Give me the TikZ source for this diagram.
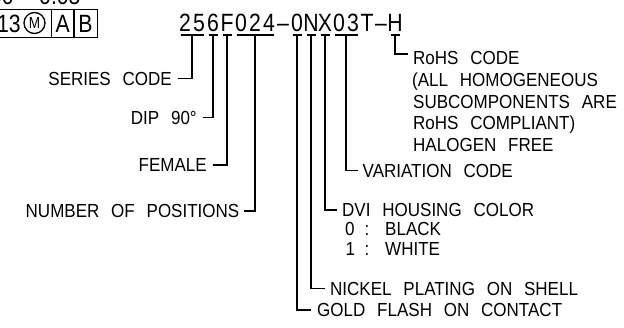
\documentclass[tikz,border=0pt]{standalone}
\usepackage{fontspec}
\newfontfamily\cadfont{Liberation Sans}[FakeStretch=0.9,WordSpace=2.5]
\newfontfamily\pnfont{Liberation Sans}[FakeStretch=0.85]
\usetikzlibrary{calc}
\begin{document}
\begin{tikzpicture}[x=1pt,y=-1pt,
  lbl/.style={font=\cadfont\fontsize{18.9}{22}\selectfont, inner sep=0pt},
  pn/.style={font=\pnfont\fontsize{25}{30}\selectfont, inner sep=0pt},
  msmall/.style={font=\pnfont\fontsize{16}{18}\selectfont, inner sep=0pt},
  ln/.style={line width=1.7pt, line cap=butt},
  frm/.style={line width=1.3pt}]
\useasboundingbox (0,0) rectangle (624,327);
\fill[white] (0,0) rectangle (624,327);

% cut-off text at the top and feature control frame
\node[pn,anchor=base east] (topa) at (14,4.5) {00};
\node[pn,anchor=base west] (topb) at (39,4.5) {0.05};
\draw[frm] (-5,9.3) rectangle (97.3,37.3);
\draw[frm] (51.7,9.3) -- (51.7,37.3);
\draw[frm] (74,9.3) -- (74,37.3);
\node[pn,anchor=base east] (f13) at (21,32.5) {13};
\node[draw,circle,line width=1.3pt,minimum size=21pt,inner sep=0pt] (fm) at (34.5,23) {};
\node[msmall] at (fm.center) {M};
\node[pn,anchor=base] (fA) at (62.8,32.5) {A};
\node[pn,anchor=base] (fB) at (85.5,32.5) {B};

% part number
\foreach \ch [count=\k from 0] in {2,5,6,F,0,2,4,\textendash,0,N,X,0,3,T,\textendash,H}
  \node[pn,anchor=base] (c\k) at ({185+14*\k},31.5) {\ch};

% tick bars under character groups
\foreach \a/\b/\n in {0/1/series,2/2/dip,3/3/female,4/6/pos,8/8/gold,9/9/nickel,10/10/dvi,11/12/var,15/15/rohs}{
  \draw[ln] ({185+14*\a-4.5},35) -- ({185+14*\b+4.5},35);
  \coordinate (t-\n) at ({185+7*(\a+\b)},35);
}

% left labels
\node[lbl,anchor=base east] (series) at (172,85) {SERIES CODE};
\node[lbl,anchor=base east] (dip) at (197,124) {DIP 90°};
\node[lbl,anchor=base east] (female) at (207,171.5) {FEMALE};
\node[lbl,anchor=base east] (pos) at (239.5,217.5) {NUMBER OF POSITIONS};

% right labels
\node[lbl,anchor=base west] (rohs1) at (413,64.5) {RoHS CODE};
\node[lbl,anchor=base west] (rohs2) at (412,86.25) {(ALL HOMOGENEOUS};
\node[lbl,anchor=base west] (rohs3) at (413,108) {SUBCOMPONENTS ARE};
\node[lbl,anchor=base west] (rohs4) at (413,129.75) {RoHS COMPLIANT)};
\node[lbl,anchor=base west] (rohs5) at (413,151.5) {HALOGEN FREE};
\node[lbl,anchor=base west] (var) at (362.5,177) {VARIATION CODE};
\node[lbl,anchor=base west] (dvi) at (342,216.5) {DVI HOUSING COLOR};
\node[lbl,anchor=base west] (d0) at (345,235.5) {0};
\node[lbl,anchor=base] (d0c) at (367,235.5) {:};
\node[lbl,anchor=base west] (d0t) at (385,235.5) {BLACK};
\node[lbl,anchor=base west] (d1) at (345.5,255.5) {1};
\node[lbl,anchor=base] (d1c) at (367,255.5) {:};
\node[lbl,anchor=base west] (d1t) at (385,255.5) {WHITE};
\node[lbl,anchor=base west] (nickel) at (330,295) {NICKEL PLATING ON SHELL};
\node[lbl,anchor=base west] (gold) at (317,316.5) {GOLD FLASH ON CONTACT};

% connectors
\draw[ln] (t-series) |- ([xshift=6pt]series.east);
\draw[ln] (t-dip) |- ([xshift=6pt]dip.east);
\draw[ln] (t-female) |- ([xshift=6pt]female.east);
\draw[ln] (t-pos) |- ([xshift=4pt]pos.east);
\draw[ln] (t-rohs) |- ([xshift=-5pt,yshift=4pt]rohs1.west);
\draw[ln] (t-var) |- ([xshift=-5pt]var.west);
\draw[ln] (t-dvi) |- ([xshift=-5pt]dvi.west);
\draw[ln] (t-nickel) |- ([xshift=-5pt]nickel.west);
\draw[ln] (t-gold) |- ([xshift=-6pt]gold.west);
\end{tikzpicture}
\end{document}
